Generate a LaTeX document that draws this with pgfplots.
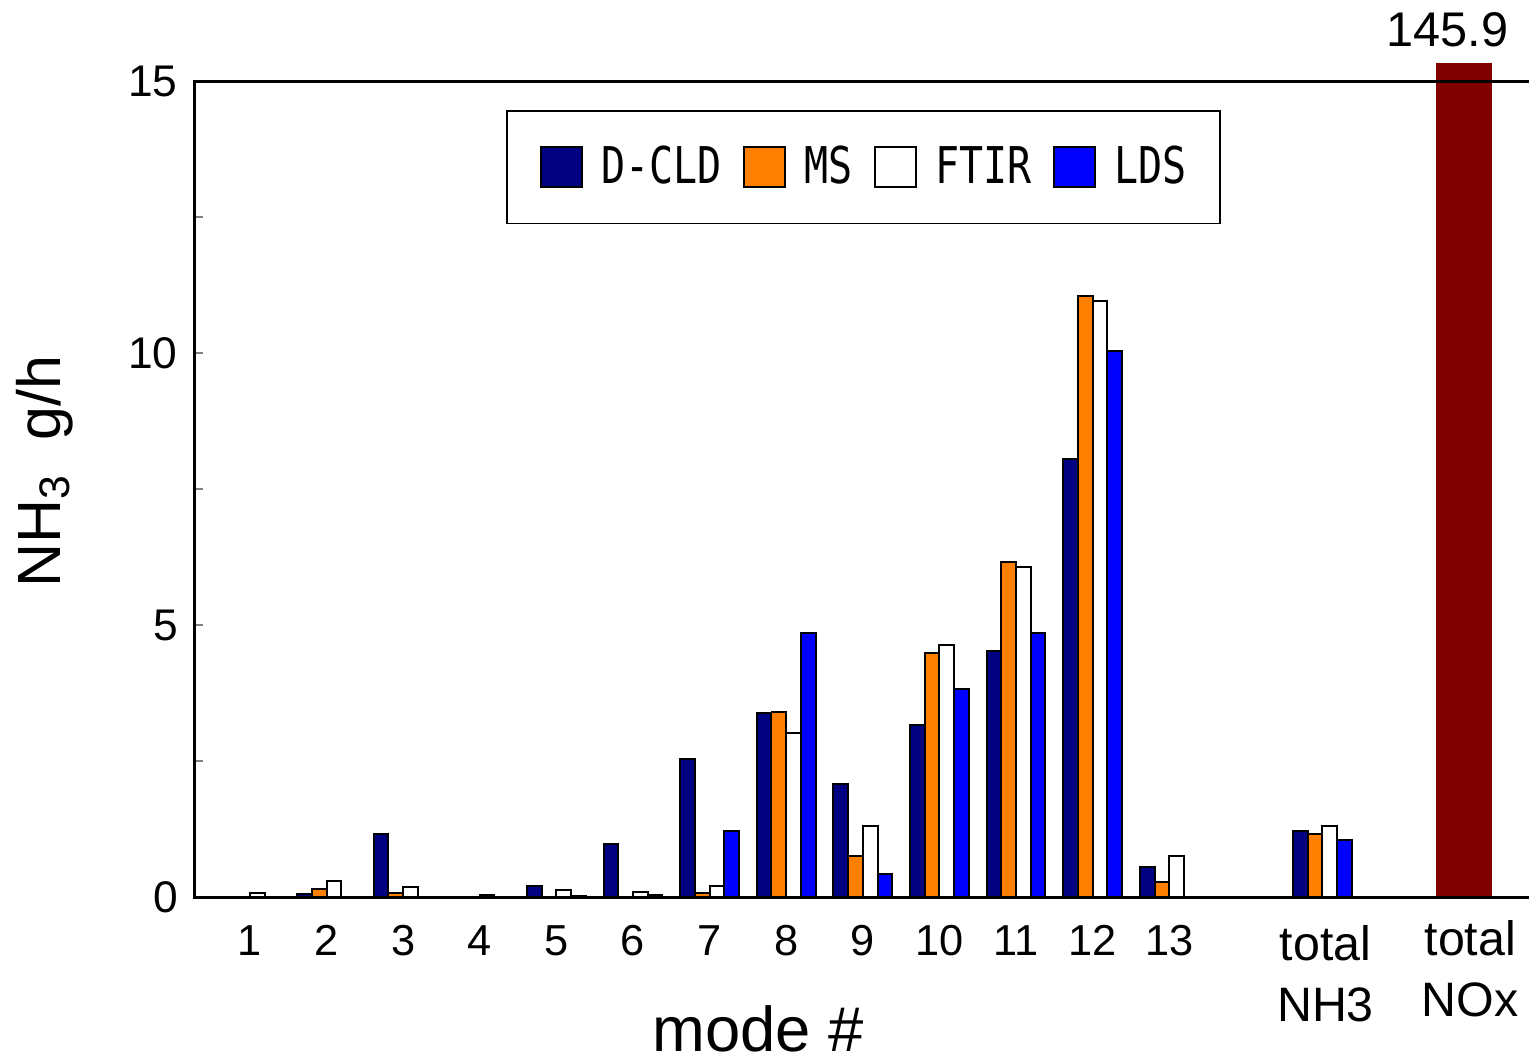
\documentclass[border=0pt]{standalone}
\usepackage{fontspec}
\setmainfont{Liberation Sans}
\newfontfamily\legfont{DejaVu Sans Mono}[FakeStretch=0.79]
\usepackage{pgfplots}
\pgfplotsset{compat=1.18}

\definecolor{dcld}{HTML}{000080}
\definecolor{ms}{HTML}{FF8000}
\definecolor{lds}{HTML}{0000FF}
\definecolor{nox}{HTML}{800000}

% two centred lines, top of the box at the top of the first line (#1 = raise)
\newcommand{\twoline}[3][0pt]{{\fontsize{14.5}{18.2}\selectfont\vbox{\vskip-#1\halign{\hfil##\hfil\cr#2\cr#3\cr}}}}

\begin{document}
\begin{tikzpicture}
\begin{axis}[
    scale only axis,
    width=400.2pt, height=244.8pt,
    xmin=0.282, xmax=17.697,
    ymin=0, ymax=15,
    clip=false,
    axis line style={draw=none},
    xtick={1,2,3,4,5,6,7,8,9,10,11,12,13,15.04,16.93},
    xticklabels={1,2,3,4,5,6,7,8,9,10,11,12,13,\twoline{total}{NH3},\twoline[1.5pt]{total}{NOx}},
    xtick style={draw=none},
    xticklabel style={font=\fontsize{13}{16}\selectfont, inner ysep=0pt, yshift=-8.4pt, anchor=north},
    ytick={0,5,10,15},
    minor ytick={2.5,7.5,12.5},
    ytick pos=left,
    tick align=inside,
    major tick length=2.4pt, minor tick length=2.4pt,
    ytick style={gray, line width=0.4pt},
    yticklabel style={font=\fontsize{13.3}{15}\selectfont, inner xsep=0pt, xshift=-5pt},
    /pgf/number format/assume math mode=true,
    xlabel={mode \#},
    ylabel={NH\textsubscript{3}\ \ g/h},
    every axis x label/.style={at={(axis description cs:0.422,-0.162)}, anchor=center, font=\fontsize{19}{22}\selectfont},
    every axis y label/.style={at={(axis description cs:-0.113,0.521)}, rotate=90, anchor=center, font=\fontsize{18.3}{22}\selectfont},
    legend style={at={(axis description cs:0.2331,0.9645)}, anchor=north west,
        draw=black, line width=0.5pt, inner xsep=10pt, inner ysep=10.5pt,
        font=\legfont\fontsize{15.2}{16}\selectfont,
        legend columns=4, column sep=5.6pt,
        /tikz/every even column/.append style={column sep=6.4pt},
        nodes={inner sep=0pt}},
    legend image code/.code={\draw[#1, line width=0.5pt] (0pt,-6pt) rectangle (12.3pt,6pt);},
    every axis plot/.append style={ybar, bar width=4.41pt, draw=black, line width=0.6pt},
]
\addplot[fill=dcld, bar shift=-6.615pt] coordinates {
(2,0.06)(3,1.16)(5,0.20)(6,0.98)(7,2.54)(8,3.39)(9,2.08)(10,3.17)(11,4.53)(12,8.05)(13,0.56)(15,1.21)};
\addlegendentry{D-CLD}
\addplot[fill=ms, bar shift=-2.205pt] coordinates {
(2,0.14)(3,0.08)(7,0.08)(8,3.40)(9,0.75)(10,4.48)(11,6.16)(12,11.05)(13,0.28)(15,1.15)};
\addlegendentry{MS}
\addplot[fill=white, bar shift=2.205pt] coordinates {
(1,0.08)(2,0.30)(3,0.18)(4,0.03)(5,0.12)(6,0.10)(7,0.21)(8,3.01)(9,1.30)(10,4.63)(11,6.07)(12,10.96)(13,0.75)(15,1.31)};
\addlegendentry{FTIR}
\addplot[fill=lds, bar shift=6.615pt] coordinates {
(5,0.02)(6,0.03)(7,1.21)(8,4.85)(9,0.42)(10,3.83)(11,4.85)(12,10.04)(15,1.05)};
\addlegendentry{LDS}
% total NOx is 145.9 g/h, the bar is cut just above the frame
\addplot[forget plot, fill=nox, draw=none, bar width=17pt, bar shift=0pt,
    nodes near coords={145.9},
    every node near coord/.append style={anchor=south, inner sep=0pt, xshift=-5pt, yshift=4.5pt, font=\fontsize{14.6}{16}\selectfont, text=black}]
    coordinates {(16.85,15.33)};
\draw[line width=0.9pt] (rel axis cs:1,1) -- (rel axis cs:0,1) -- (rel axis cs:0,0) -- (rel axis cs:1,0);
\coordinate (ll) at (rel axis cs:0,0);
\coordinate (ur) at (rel axis cs:1,1);
\end{axis}
\pgfresetboundingbox
\path[use as bounding box] ([shift={(-58.5pt,-50.1pt)}]ll) rectangle ([shift={(0pt,24.3pt)}]ur);
\end{tikzpicture}
\end{document}
